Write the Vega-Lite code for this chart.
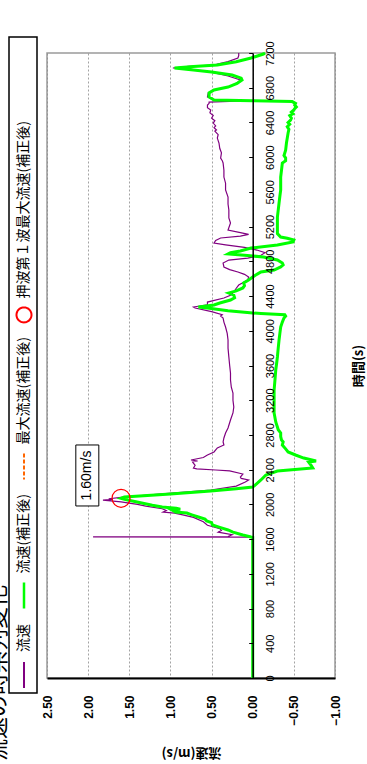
{
  "$schema": "https://vega.github.io/schema/vega-lite/v6.json",
  "width": 288,
  "height": 625,
  "autosize": {"type": "none"},
  "padding": {"left": 47, "top": 53, "right": 32, "bottom": 86},
  "background": "white",
  "config": {
    "view": {"stroke": "#9a9a9a", "strokeWidth": 1.5},
    "font": "Liberation Sans"
  },
  "datasets": {
    "flow": [
      {"series": "流速", "t": 0, "v": 0}, {"series": "流速", "t": 1620, "v": 0}, {"series": "流速", "t": 1624, "v": 0}, {"series": "流速", "t": 1626, "v": 1.94}, {"series": "流速", "t": 1630, "v": 0.30}, {"series": "流速", "t": 1650, "v": 0.25}, {"series": "流速", "t": 1680, "v": 0.42}, {"series": "流速", "t": 1700, "v": 0.38}, {"series": "流速", "t": 1720, "v": 0.40}, {"series": "流速", "t": 1760, "v": 0.55}, {"series": "流速", "t": 1800, "v": 0.60}, {"series": "流速", "t": 1850, "v": 0.72}, {"series": "流速", "t": 1880, "v": 0.85}, {"series": "流速", "t": 1900, "v": 0.95}, {"series": "流速", "t": 1912, "v": 1.09}, {"series": "流速", "t": 1930, "v": 1.05}, {"series": "流速", "t": 1950, "v": 1.10}, {"series": "流速", "t": 1980, "v": 1.30}, {"series": "流速", "t": 2000, "v": 1.40}, {"series": "流速", "t": 2030, "v": 1.60}, {"series": "流速", "t": 2050, "v": 1.82}, {"series": "流速", "t": 2058, "v": 1.70}, {"series": "流速", "t": 2065, "v": 1.75}, {"series": "流速", "t": 2080, "v": 1.60}, {"series": "流速", "t": 2120, "v": 1.10}, {"series": "流速", "t": 2166, "v": 0.51}, {"series": "流速", "t": 2210, "v": 0.20}, {"series": "流速", "t": 2258, "v": 0.09}, {"series": "流速", "t": 2281, "v": 0.05}, {"series": "流速", "t": 2300, "v": 0.14}, {"series": "流速", "t": 2315, "v": 0.15}, {"series": "流速", "t": 2350, "v": 0.12}, {"series": "流速", "t": 2385, "v": 0.28}, {"series": "流速", "t": 2396, "v": 0.45}, {"series": "流速", "t": 2410, "v": 0.68}, {"series": "流速", "t": 2419, "v": 0.72}, {"series": "流速", "t": 2450, "v": 0.70}, {"series": "流速", "t": 2488, "v": 0.73}, {"series": "流速", "t": 2500, "v": 0.67}, {"series": "流速", "t": 2511, "v": 0.75}, {"series": "流速", "t": 2540, "v": 0.60}, {"series": "流速", "t": 2569, "v": 0.55}, {"series": "流速", "t": 2604, "v": 0.47}, {"series": "流速", "t": 2650, "v": 0.43}, {"series": "流速", "t": 2684, "v": 0.35}, {"series": "流速", "t": 2720, "v": 0.36}, {"series": "流速", "t": 2765, "v": 0.35}, {"series": "流速", "t": 2823, "v": 0.33}, {"series": "流速", "t": 2880, "v": 0.30}, {"series": "流速", "t": 2972, "v": 0.27}, {"series": "流速", "t": 3053, "v": 0.24}, {"series": "流速", "t": 3122, "v": 0.23}, {"series": "流速", "t": 3200, "v": 0.24}, {"series": "流速", "t": 3283, "v": 0.24}, {"series": "流速", "t": 3350, "v": 0.26}, {"series": "流速", "t": 3433, "v": 0.27}, {"series": "流速", "t": 3514, "v": 0.27}, {"series": "流速", "t": 3600, "v": 0.28}, {"series": "流速", "t": 3698, "v": 0.29}, {"series": "流速", "t": 3800, "v": 0.30}, {"series": "流速", "t": 3894, "v": 0.30}, {"series": "流速", "t": 3970, "v": 0.31}, {"series": "流速", "t": 4043, "v": 0.33}, {"series": "流速", "t": 4100, "v": 0.35}, {"series": "流速", "t": 4147, "v": 0.36}, {"series": "流速", "t": 4170, "v": 0.39}, {"series": "流速", "t": 4185, "v": 0.37}, {"series": "流速", "t": 4220, "v": 0.50}, {"series": "流速", "t": 4262, "v": 0.70}, {"series": "流速", "t": 4274, "v": 0.72}, {"series": "流速", "t": 4300, "v": 0.55}, {"series": "流速", "t": 4331, "v": 0.55}, {"series": "流速", "t": 4377, "v": 0.35}, {"series": "流速", "t": 4410, "v": 0.27}, {"series": "流速", "t": 4447, "v": 0.23}, {"series": "流速", "t": 4490, "v": 0.20}, {"series": "流速", "t": 4527, "v": 0.17}, {"series": "流速", "t": 4585, "v": 0.06}, {"series": "流速", "t": 4620, "v": 0.05}, {"series": "流速", "t": 4650, "v": 0.10}, {"series": "流速", "t": 4677, "v": 0.18}, {"series": "流速", "t": 4705, "v": 0.28}, {"series": "流速", "t": 4735, "v": 0.35}, {"series": "流速", "t": 4781, "v": 0.36}, {"series": "流速", "t": 4815, "v": 0.29}, {"series": "流速", "t": 4838, "v": 0.06}, {"series": "流速", "t": 4870, "v": -0.10}, {"series": "流速", "t": 4900, "v": -0.15}, {"series": "流速", "t": 4930, "v": -0.05}, {"series": "流速", "t": 4960, "v": 0.10}, {"series": "流速", "t": 4990, "v": 0.33}, {"series": "流速", "t": 5011, "v": 0.47}, {"series": "流速", "t": 5040, "v": 0.45}, {"series": "流速", "t": 5069, "v": 0.39}, {"series": "流速", "t": 5090, "v": 0.15}, {"series": "流速", "t": 5110, "v": 0.05}, {"series": "流速", "t": 5130, "v": 0.15}, {"series": "流速", "t": 5161, "v": 0.30}, {"series": "流速", "t": 5242, "v": 0.27}, {"series": "流速", "t": 5300, "v": 0.29}, {"series": "流速", "t": 5391, "v": 0.29}, {"series": "流速", "t": 5460, "v": 0.30}, {"series": "流速", "t": 5541, "v": 0.30}, {"series": "流速", "t": 5622, "v": 0.33}, {"series": "流速", "t": 5700, "v": 0.33}, {"series": "流速", "t": 5771, "v": 0.35}, {"series": "流速", "t": 5850, "v": 0.35}, {"series": "流速", "t": 5933, "v": 0.36}, {"series": "流速", "t": 5960, "v": 0.37}, {"series": "流速", "t": 5990, "v": 0.39}, {"series": "流速", "t": 6050, "v": 0.38}, {"series": "流速", "t": 6100, "v": 0.40}, {"series": "流速", "t": 6163, "v": 0.41}, {"series": "流速", "t": 6220, "v": 0.43}, {"series": "流速", "t": 6260, "v": 0.42}, {"series": "流速", "t": 6300, "v": 0.46}, {"series": "流速", "t": 6313, "v": 0.44}, {"series": "流速", "t": 6340, "v": 0.47}, {"series": "流速", "t": 6360, "v": 0.45}, {"series": "流速", "t": 6393, "v": 0.48}, {"series": "流速", "t": 6420, "v": 0.46}, {"series": "流速", "t": 6450, "v": 0.50}, {"series": "流速", "t": 6480, "v": 0.48}, {"series": "流速", "t": 6510, "v": 0.52}, {"series": "流速", "t": 6543, "v": 0.51}, {"series": "流速", "t": 6570, "v": 0.55}, {"series": "流速", "t": 6601, "v": 0.55}, {"series": "流速", "t": 6620, "v": 0.53}, {"series": "流速", "t": 6635, "v": 0.53}, {"series": "流速", "t": 6645, "v": 0.20}, {"series": "流速", "t": 6650, "v": 0.02}, {"series": "流速", "t": 6660, "v": 0.48}, {"series": "流速", "t": 6693, "v": 0.55}, {"series": "流速", "t": 6740, "v": 0.54}, {"series": "流速", "t": 6774, "v": 0.48}, {"series": "流速", "t": 6808, "v": 0.29}, {"series": "流速", "t": 6850, "v": 0.20}, {"series": "流速", "t": 6889, "v": 0.15}, {"series": "流速", "t": 6935, "v": 0.30}, {"series": "流速", "t": 6981, "v": 0.52}, {"series": "流速", "t": 7004, "v": 0.75}, {"series": "流速", "t": 7027, "v": 0.97}, {"series": "流速", "t": 7045, "v": 0.78}, {"series": "流速", "t": 7062, "v": 0.48}, {"series": "流速", "t": 7100, "v": 0.30}, {"series": "流速", "t": 7142, "v": 0.18}, {"series": "流速", "t": 7170, "v": 0.17}, {"series": "流速", "t": 7200, "v": 0.17},
      {"series": "流速(補正後)", "t": 0, "v": 0}, {"series": "流速(補正後)", "t": 1620, "v": 0}, {"series": "流速(補正後)", "t": 1624, "v": 0.02}, {"series": "流速(補正後)", "t": 1647, "v": 0.12}, {"series": "流速(補正後)", "t": 1680, "v": 0.24}, {"series": "流速(補正後)", "t": 1705, "v": 0.30}, {"series": "流速(補正後)", "t": 1735, "v": 0.40}, {"series": "流速(補正後)", "t": 1763, "v": 0.49}, {"series": "流速(補正後)", "t": 1790, "v": 0.50}, {"series": "流速(補正後)", "t": 1810, "v": 0.56}, {"series": "流速(補正後)", "t": 1830, "v": 0.58}, {"series": "流速(補正後)", "t": 1855, "v": 0.66}, {"series": "流速(補正後)", "t": 1880, "v": 0.74}, {"series": "流速(補正後)", "t": 1900, "v": 0.80}, {"series": "流速(補正後)", "t": 1912, "v": 0.94}, {"series": "流速(補正後)", "t": 1925, "v": 0.96}, {"series": "流速(補正後)", "t": 1935, "v": 0.98}, {"series": "流速(補正後)", "t": 1945, "v": 0.88}, {"series": "流速(補正後)", "t": 1955, "v": 0.93}, {"series": "流速(補正後)", "t": 1970, "v": 1.10}, {"series": "流速(補正後)", "t": 1990, "v": 1.22}, {"series": "流速(補正後)", "t": 2010, "v": 1.32}, {"series": "流速(補正後)", "t": 2030, "v": 1.42}, {"series": "流速(補正後)", "t": 2050, "v": 1.52}, {"series": "流速(補正後)", "t": 2062, "v": 1.57}, {"series": "流速(補正後)", "t": 2070, "v": 1.60}, {"series": "流速(補正後)", "t": 2085, "v": 1.56}, {"series": "流速(補正後)", "t": 2120, "v": 1.00}, {"series": "流速(補正後)", "t": 2154, "v": 0.51}, {"series": "流速(補正後)", "t": 2180, "v": 0.20}, {"series": "流速(補正後)", "t": 2200, "v": 0.00}, {"series": "流速(補正後)", "t": 2240, "v": -0.05}, {"series": "流速(補正後)", "t": 2281, "v": -0.10}, {"series": "流速(補正後)", "t": 2339, "v": -0.16}, {"series": "流速(補正後)", "t": 2385, "v": -0.30}, {"series": "流速(補正後)", "t": 2419, "v": -0.73}, {"series": "流速(補正後)", "t": 2450, "v": -0.71}, {"series": "流速(補正後)", "t": 2488, "v": -0.68}, {"series": "流速(補正後)", "t": 2500, "v": -0.77}, {"series": "流速(補正後)", "t": 2534, "v": -0.62}, {"series": "流速(補正後)", "t": 2569, "v": -0.52}, {"series": "流速(補正後)", "t": 2604, "v": -0.43}, {"series": "流速(補正後)", "t": 2640, "v": -0.40}, {"series": "流速(補正後)", "t": 2684, "v": -0.36}, {"series": "流速(補正後)", "t": 2720, "v": -0.37}, {"series": "流速(補正後)", "t": 2742, "v": -0.35}, {"series": "流速(補正後)", "t": 2780, "v": -0.34}, {"series": "流速(補正後)", "t": 2823, "v": -0.34}, {"series": "流速(補正後)", "t": 2860, "v": -0.31}, {"series": "流速(補正後)", "t": 2892, "v": -0.30}, {"series": "流速(補正後)", "t": 2950, "v": -0.28}, {"series": "流速(補正後)", "t": 3053, "v": -0.26}, {"series": "流速(補正後)", "t": 3130, "v": -0.26}, {"series": "流速(補正後)", "t": 3203, "v": -0.26}, {"series": "流速(補正後)", "t": 3318, "v": -0.26}, {"series": "流速(補正後)", "t": 3430, "v": -0.27}, {"series": "流速(補正後)", "t": 3548, "v": -0.28}, {"series": "流速(補正後)", "t": 3620, "v": -0.29}, {"series": "流速(補正後)", "t": 3698, "v": -0.30}, {"series": "流速(補正後)", "t": 3800, "v": -0.31}, {"series": "流速(補正後)", "t": 3894, "v": -0.32}, {"series": "流速(補正後)", "t": 3970, "v": -0.33}, {"series": "流速(補正後)", "t": 4043, "v": -0.34}, {"series": "流速(補正後)", "t": 4100, "v": -0.36}, {"series": "流速(補正後)", "t": 4147, "v": -0.38}, {"series": "流速(補正後)", "t": 4170, "v": -0.40}, {"series": "流速(補正後)", "t": 4185, "v": -0.39}, {"series": "流速(補正後)", "t": 4200, "v": -0.10}, {"series": "流速(補正後)", "t": 4205, "v": 0.00}, {"series": "流速(補正後)", "t": 4230, "v": 0.30}, {"series": "流速(補正後)", "t": 4262, "v": 0.55}, {"series": "流速(補正後)", "t": 4274, "v": 0.66}, {"series": "流速(補正後)", "t": 4297, "v": 0.47}, {"series": "流速(補正後)", "t": 4320, "v": 0.40}, {"series": "流速(補正後)", "t": 4354, "v": 0.27}, {"series": "流速(補正後)", "t": 4380, "v": 0.22}, {"series": "流速(補正後)", "t": 4412, "v": 0.23}, {"series": "流速(補正後)", "t": 4435, "v": 0.29}, {"series": "流速(補正後)", "t": 4460, "v": 0.20}, {"series": "流速(補正後)", "t": 4493, "v": 0.12}, {"series": "流速(補正後)", "t": 4520, "v": 0.10}, {"series": "流速(補正後)", "t": 4550, "v": 0.11}, {"series": "流速(補正後)", "t": 4585, "v": 0.05}, {"series": "流速(補正後)", "t": 4619, "v": 0.00}, {"series": "流速(補正後)", "t": 4650, "v": -0.05}, {"series": "流速(補正後)", "t": 4677, "v": -0.10}, {"series": "流速(補正後)", "t": 4700, "v": -0.26}, {"series": "流速(補正後)", "t": 4735, "v": -0.34}, {"series": "流速(補正後)", "t": 4760, "v": -0.37}, {"series": "流速(補正後)", "t": 4781, "v": -0.36}, {"series": "流速(補正後)", "t": 4815, "v": -0.30}, {"series": "流速(補正後)", "t": 4850, "v": -0.13}, {"series": "流速(補正後)", "t": 4870, "v": 0.10}, {"series": "流速(補正後)", "t": 4885, "v": 0.30}, {"series": "流速(補正後)", "t": 4900, "v": 0.27}, {"series": "流速(補正後)", "t": 4920, "v": 0.15}, {"series": "流速(補正後)", "t": 4953, "v": 0.02}, {"series": "流速(補正後)", "t": 4988, "v": -0.30}, {"series": "流速(補正後)", "t": 5023, "v": -0.49}, {"series": "流速(補正後)", "t": 5046, "v": -0.50}, {"series": "流速(補正後)", "t": 5065, "v": -0.42}, {"series": "流速(補正後)", "t": 5080, "v": -0.34}, {"series": "流速(補正後)", "t": 5120, "v": -0.30}, {"series": "流速(補正後)", "t": 5161, "v": -0.30}, {"series": "流速(補正後)", "t": 5240, "v": -0.30}, {"series": "流速(補正後)", "t": 5311, "v": -0.30}, {"series": "流速(補正後)", "t": 5390, "v": -0.31}, {"series": "流速(補正後)", "t": 5472, "v": -0.32}, {"series": "流速(補正後)", "t": 5550, "v": -0.33}, {"series": "流速(補正後)", "t": 5622, "v": -0.34}, {"series": "流速(補正後)", "t": 5700, "v": -0.34}, {"series": "流速(補正後)", "t": 5771, "v": -0.34}, {"series": "流速(補正後)", "t": 5850, "v": -0.35}, {"series": "流速(補正後)", "t": 5933, "v": -0.36}, {"series": "流速(補正後)", "t": 5960, "v": -0.40}, {"series": "流速(補正後)", "t": 5990, "v": -0.40}, {"series": "流速(補正後)", "t": 6020, "v": -0.38}, {"series": "流速(補正後)", "t": 6080, "v": -0.40}, {"series": "流速(補正後)", "t": 6163, "v": -0.41}, {"series": "流速(補正後)", "t": 6220, "v": -0.42}, {"series": "流速(補正後)", "t": 6278, "v": -0.43}, {"series": "流速(補正後)", "t": 6320, "v": -0.44}, {"series": "流速(補正後)", "t": 6350, "v": -0.42}, {"series": "流速(補正後)", "t": 6380, "v": -0.45}, {"series": "流速(補正後)", "t": 6400, "v": -0.43}, {"series": "流速(補正後)", "t": 6428, "v": -0.46}, {"series": "流速(補正後)", "t": 6450, "v": -0.47}, {"series": "流速(補正後)", "t": 6480, "v": -0.45}, {"series": "流速(補正後)", "t": 6500, "v": -0.49}, {"series": "流速(補正後)", "t": 6520, "v": -0.47}, {"series": "流速(補正後)", "t": 6543, "v": -0.50}, {"series": "流速(補正後)", "t": 6560, "v": -0.51}, {"series": "流速(補正後)", "t": 6578, "v": -0.53}, {"series": "流速(補正後)", "t": 6600, "v": -0.51}, {"series": "流速(補正後)", "t": 6620, "v": -0.52}, {"series": "流速(補正後)", "t": 6640, "v": -0.48}, {"series": "流速(補正後)", "t": 6650, "v": 0.00}, {"series": "流速(補正後)", "t": 6658, "v": 0.47}, {"series": "流速(補正後)", "t": 6693, "v": 0.53}, {"series": "流速(補正後)", "t": 6740, "v": 0.53}, {"series": "流速(補正後)", "t": 6774, "v": 0.47}, {"series": "流速(補正後)", "t": 6808, "v": 0.30}, {"series": "流速(補正後)", "t": 6850, "v": 0.19}, {"series": "流速(補正後)", "t": 6889, "v": 0.13}, {"series": "流速(補正後)", "t": 6910, "v": 0.14}, {"series": "流速(補正後)", "t": 6946, "v": 0.25}, {"series": "流速(補正後)", "t": 6981, "v": 0.50}, {"series": "流速(補正後)", "t": 7004, "v": 0.72}, {"series": "流速(補正後)", "t": 7027, "v": 0.95}, {"series": "流速(補正後)", "t": 7045, "v": 0.72}, {"series": "流速(補正後)", "t": 7062, "v": 0.43}, {"series": "流速(補正後)", "t": 7100, "v": 0.20}, {"series": "流速(補正後)", "t": 7142, "v": 0.02}, {"series": "流速(補正後)", "t": 7188, "v": -0.13}, {"series": "流速(補正後)", "t": 7200, "v": -0.15}
    ],
    "maxline": [{"series": "最大流速(補正後)", "v": 1.6}],
    "peak": [{"series": "押波第１波最大流速(補正後)", "t": 2070, "v": 1.6}],
    "note": [{"t": 2333, "v": 2.01, "label": "1.60m/s"}],
    "heading": [{"t": 58, "v": 3.10, "label": "流速の時系列変化"}]
  },
  "encoding": {
    "x": {
      "field": "v", "type": "quantitative",
      "scale": {"domain": [-1, 2.5], "reverse": true, "nice": false, "zero": false},
      "axis": {
        "orient": "bottom", "values": [2.5, 2, 1.5, 1, 0.5, 0, -0.5, -1], "format": ".2f",
        "labelAngle": 270, "labelAlign": "right", "labelBaseline": "middle", "labelPadding": 17,
        "labelFont": "Liberation Sans", "labelFontSize": 12, "labelFontWeight": "bold", "labelColor": "black",
        "labelOverlap": false, "labelFlush": false,
        "ticks": false, "domain": true, "domainColor": "black", "domainWidth": 2,
        "grid": true, "gridColor": "#8c8c8c", "gridDash": [2, 2], "gridWidth": 0.8,
        "title": "流速(m/s)", "titleAngle": 180, "titleBaseline": "bottom", "titlePadding": 20,
        "titleFont": "Noto Sans CJK JP", "titleFontSize": 13, "titleFontWeight": "bold", "titleColor": "black"
      }
    },
    "y": {
      "field": "t", "type": "quantitative",
      "scale": {"domain": [0, 7200], "nice": false, "zero": false},
      "axis": {
        "orient": "right", "offset": -82.3, "format": "d",
        "values": [0, 400, 800, 1200, 1600, 2000, 2400, 2800, 3200, 3600, 4000, 4400, 4800, 5200, 5600, 6000, 6400, 6800, 7200],
        "labelAngle": 270, "labelAlign": "center", "labelBaseline": "top", "labelPadding": 16,
        "labelFont": "Liberation Sans", "labelFontSize": 11, "labelColor": "black",
        "labelOverlap": false, "labelFlush": false,
        "ticks": true, "tickSize": -4, "tickColor": "black", "tickWidth": 1,
        "domain": true, "domainColor": "black", "domainWidth": 1.5,
        "grid": false, "zindex": 2,
        "title": "時間(s)", "titleAngle": 270, "titleBaseline": "top", "titleAlign": "center", "titlePadding": 77,
        "titleFont": "Noto Sans CJK JP", "titleFontSize": 13, "titleFontWeight": "bold", "titleColor": "black"
      }
    }
  },
  "layer": [
    {
      "data": {"name": "flow"},
      "transform": [{"filter": "datum.series === '流速'"}],
      "mark": {"type": "line", "strokeWidth": 1.2},
      "encoding": {
        "order": {"field": "t", "type": "quantitative"},
        "color": {
          "field": "series", "type": "nominal",
          "scale": {"domain": ["押波第１波最大流速(補正後)", "最大流速(補正後)", "流速(補正後)", "流速"], "range": ["#ff0000", "#ff6600", "#00ff00", "#800080"]},
          "legend": {
            "orient": "none", "legendX": -38, "legendY": -16, "direction": "vertical",
            "title": " ", "titleFontSize": 1, "titlePadding": 82,
            "strokeColor": "black", "fillColor": "white", "padding": 1,
            "labelFont": "Noto Sans CJK JP", "labelFontSize": 14, "labelColor": "black", "labelLimit": 1000,
            "symbolType": "stroke", "symbolSize": 676, "rowPadding": 9,
            "encode": {
              "legend": {"update": {"strokeWidth": {"value": 1.5}}},
              "symbols": {"update": {
                "x": {"value": 14},
                "y": {"signal": "(length(datum.value) - (indexof(datum.value, '(') >= 0 ? 2 : 0)) * 14 + (indexof(datum.value, '(') >= 0 ? 8.4 : 0) + (datum.value === '押波第１波最大流速(補正後)' ? 17.5 : 23)"},
                "angle": {"value": 90},
                "shape": {"signal": "datum.value === '押波第１波最大流速(補正後)' ? 'circle' : 'stroke'"},
                "size": {"signal": "datum.value === '押波第１波最大流速(補正後)' ? 225 : 676"},
                "strokeDash": {"signal": "datum.value === '最大流速(補正後)' ? [4, 2] : [1, 0]"},
                "strokeWidth": {"signal": "datum.value === '流速(補正後)' ? 2.5 : 2"},
                "fill": {"value": "transparent"}
              }},
              "labels": {"update": {
                "x": {"value": 14},
                "y": {"value": 0},
                "angle": {"value": 270},
                "align": {"value": "right"},
                "baseline": {"value": "middle"}
              }}
            }
          }
        }
      }
    },
    {
      "data": {"name": "flow"},
      "transform": [{"filter": "datum.series === '流速(補正後)'"}],
      "mark": {"type": "line", "strokeWidth": 3},
      "encoding": {
        "order": {"field": "t", "type": "quantitative"},
        "color": {"field": "series", "type": "nominal"}
      }
    },
    {
      "data": {"name": "maxline"},
      "mark": {"type": "rule", "strokeWidth": 2.5, "strokeDash": [8, 4]},
      "encoding": {
        "y": {"datum": 0},
        "y2": {"datum": 7200},
        "color": {"field": "series", "type": "nominal"}
      }
    },
    {
      "data": {"name": "peak"},
      "mark": {"type": "point", "shape": "circle", "size": 324, "filled": false, "strokeWidth": 1.2, "opacity": 1},
      "encoding": {
        "color": {"field": "series", "type": "nominal"}
      }
    },
    {
      "data": {"name": "note"},
      "mark": {"type": "point", "shape": "M-0.377,-1H0.377V1H-0.377Z", "size": 3721, "filled": true, "fill": "white", "stroke": "black", "strokeWidth": 1, "opacity": 1}
    },
    {
      "data": {"name": "note"},
      "mark": {"type": "text", "angle": 270, "font": "Liberation Sans", "fontSize": 14, "align": "center", "baseline": "middle", "color": "black"},
      "encoding": {"text": {"field": "label"}}
    },
    {
      "data": {"name": "heading"},
      "mark": {"type": "text", "angle": 270, "font": "Noto Sans CJK JP", "fontSize": 22, "align": "center", "baseline": "middle", "color": "black", "clip": false},
      "encoding": {"text": {"field": "label"}}
    }
  ]
}
